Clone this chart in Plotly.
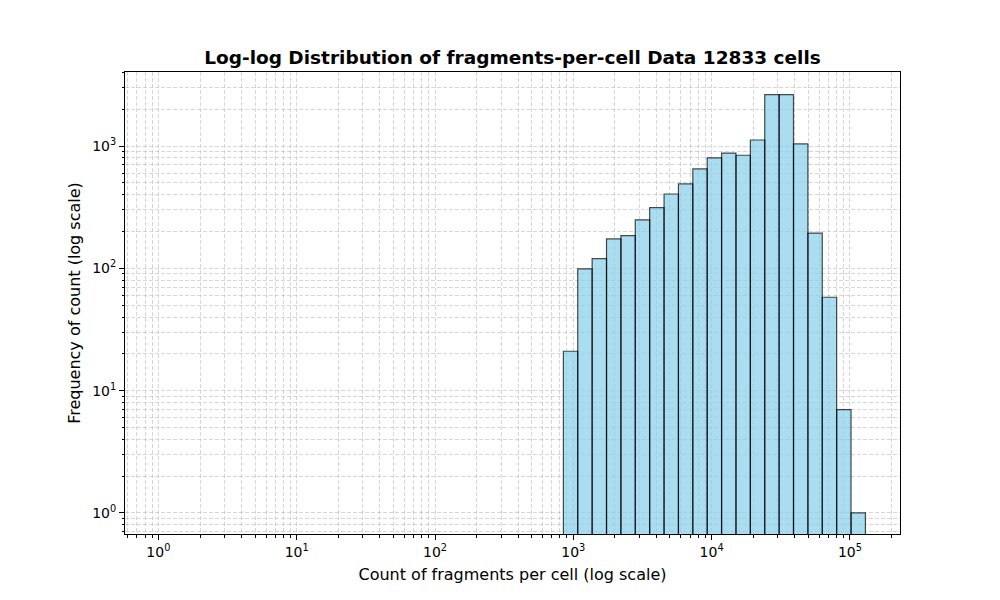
import plotly.graph_objects as go

# Histogram data (log-spaced bins)
bin_edges = [847, 1076, 1368, 1738, 2208, 2805, 3565, 4529, 5754, 7311, 9290,
             11803, 14997, 19055, 24210, 30761, 39084, 49659, 63096, 80168,
             101859, 129420]
counts = [21, 99, 120, 174, 185, 249, 313, 405, 490, 650, 800,
          875, 840, 1120, 2630, 2630, 1040, 194, 58, 7, 1]

x_tick_vals = [1, 10, 100, 1000, 10000, 100000]
x_tick_text = ["10<sup>0</sup>", "10<sup>1</sup>", "10<sup>2</sup>",
               "10<sup>3</sup>", "10<sup>4</sup>", "10<sup>5</sup>"]
y_tick_vals = [1, 10, 100, 1000]
y_tick_text = ["10<sup>0</sup>", "10<sup>1</sup>", "10<sup>2</sup>", "10<sup>3</sup>"]

title_text = "<b>Log-log Distribution of fragments-per-cell Data 12833 cells</b>"
x_title = "Count of fragments per cell (log scale)"
y_title = "Frequency of count (log scale)"

# build polygons for bars (bottom below visible range -> clipped, like matplotlib)
bottom = 0.01
xs, ys = [], []
for i, c in enumerate(counts):
    l, r = bin_edges[i], bin_edges[i + 1]
    xs += [l, l, r, r, l, None]
    ys += [bottom, c, c, bottom, bottom, None]

fig = go.Figure()
fig.add_trace(go.Scatter(
    x=xs, y=ys, mode="lines", fill="toself",
    fillcolor="rgba(135,206,235,0.7)",
    line=dict(color="rgba(0,0,0,0.7)", width=1.2),
    hoverinfo="skip", showlegend=False,
))

def minor_vals(lo_exp, hi_exp):
    v = []
    for e in range(lo_exp, hi_exp + 1):
        for d in range(2, 10):
            v.append(d * 10 ** e)
    return v

grid_col = "rgba(176,176,176,0.5)"
grid_dash = "4px,2px"
font_family = "DejaVu Sans"

# page body has an 8px offset; compensate so plot area is at x 125-900, y 72-534
fig.update_layout(
    width=1000, height=600,
    paper_bgcolor="white", plot_bgcolor="white",
    margin=dict(l=117, r=108, t=64, b=74),
    font=dict(family=font_family, color="black", size=13),
    title=dict(text=title_text, x=0.5045, xanchor="center", xref="container",
               y=1 - 50 / 600, yanchor="middle", yref="container",
               font=dict(size=18.5, family=font_family, color="black")),
)
fig.update_xaxes(
    type="log", range=[-0.2415, 5.362],
    tickmode="array", tickvals=x_tick_vals, ticktext=x_tick_text,
    ticks="outside", ticklen=5, tickwidth=1, tickcolor="black",
    showline=True, linecolor="black", linewidth=1, mirror=True,
    showgrid=True, gridcolor=grid_col, griddash=grid_dash, gridwidth=1,
    zeroline=False,
    tickfont=dict(size=14, family=font_family),
    title=dict(text=x_title, font=dict(size=16, family=font_family), standoff=10),
    minor=dict(tickmode="array", tickvals=minor_vals(-1, 5), ticks="outside",
               ticklen=2.5, tickcolor="black", tickwidth=0.8,
               showgrid=True, gridcolor=grid_col, griddash=grid_dash, gridwidth=1),
)
fig.update_yaxes(
    type="log", range=[-0.172, 3.605],
    tickmode="array", tickvals=y_tick_vals, ticktext=y_tick_text,
    ticks="outside", ticklen=5, tickwidth=1, tickcolor="black",
    showline=True, linecolor="black", linewidth=1, mirror=True,
    showgrid=True, gridcolor=grid_col, griddash=grid_dash, gridwidth=1,
    zeroline=False,
    tickfont=dict(size=14, family=font_family),
    title=dict(text=y_title, font=dict(size=16, family=font_family), standoff=7),
    minor=dict(tickmode="array", tickvals=minor_vals(-1, 3), ticks="outside",
               ticklen=2.5, tickcolor="black", tickwidth=0.8,
               showgrid=True, gridcolor=grid_col, griddash=grid_dash, gridwidth=1),
)

fig.write_html("out.html")
